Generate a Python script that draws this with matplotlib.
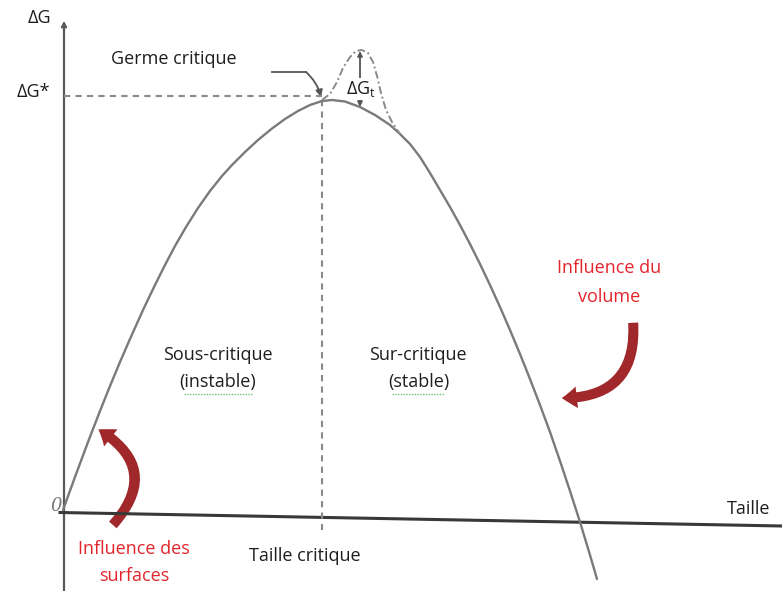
import matplotlib
matplotlib.use("Agg")
import matplotlib.pyplot as plt
from matplotlib.patches import FancyArrowPatch

# ---- data (diagram units: x = taille, y = ΔG, origin at the axes crossing) ----
curve_x = [0, 12, 25, 37, 47, 57, 67, 80, 92, 102, 112, 123, 135, 147, 159, 169,
           182, 195, 209, 222, 235, 247, 259, 269, 282, 297, 312, 327, 337, 347,
           357, 367, 377, 387, 397, 407, 417, 427, 437, 447, 457, 467, 477, 487,
           497, 507, 517, 527, 534]
curve_y = [3, 36, 71, 102, 127, 151, 174, 203, 228, 248, 267, 286, 305, 322, 337, 348,
           361, 373, 384.5, 394, 402, 408, 412, 413, 411.5, 406, 398, 388, 379, 369,
           356, 340, 323, 306, 288, 269, 249, 228, 206, 183, 159, 134, 108, 81,
           52, 22, -9, -42, -66]

bump_x = [259, 267, 274, 280, 287, 293, 299, 305, 310, 314, 318, 323, 329, 337]
bump_y = [413, 419, 431, 445, 456, 462, 463, 460, 451, 437, 420, 403, 391, 379]

critical_x = 259      # taille critique
critical_y = 417      # ΔG*

ORIGIN_PX = (63, 513)


def X(px):
    return px - ORIGIN_PX[0]


def Y(py):
    return ORIGIN_PX[1] - py


fig = plt.figure(figsize=(7.82, 5.91), dpi=100)
ax = fig.add_axes([0, 0, 1, 1])
ax.set_xlim(X(0), X(782))
ax.set_ylim(Y(591), Y(0))
ax.axis("off")

plt.rcParams["font.family"] = ["Open Sans", "DejaVu Sans"]
FONT = ["Open Sans", "DejaVu Sans"]
TXT = "#1e1e1e"
RED = "#e3242b"
GREY = "#7a7a7a"

# axes
ax.plot([X(64), X(64)], [Y(591), Y(28)], color="#5a5a5a", lw=1.6)
ax.annotate("", xy=(X(64), Y(18)), xytext=(X(64), Y(40)),
            arrowprops=dict(arrowstyle="-|>", color="#5a5a5a", lw=1.4,
                            mutation_scale=8))
ax.plot([X(60), X(782)], [Y(512.5), Y(526)], color="#383838", lw=2.2)

# dashed guide lines
ax.plot([X(64), critical_x], [critical_y, critical_y], color="#8a8a8a",
        lw=1.5, ls=(0, (3, 2.5)))
ax.plot([critical_x, critical_x], [critical_y - 4, Y(530)], color="#8a8a8a",
        lw=1.5, ls=(0, (3, 2.5)))

# main curve
ax.plot(curve_x, curve_y, color=GREY, lw=1.7, solid_capstyle="round",
        solid_joinstyle="round")
# metastable bump
ax.plot(bump_x, bump_y, color="#8a8a8a", lw=1.4, ls=(0, (4, 1.5, 1, 1.5)))

# ΔGt double arrow
ax.annotate("", xy=(X(360), Y(51)), xytext=(X(360), Y(107)),
            arrowprops=dict(arrowstyle="<|-|>", color="#555555", lw=1.3,
                            mutation_scale=7, shrinkA=0, shrinkB=0))

# "Germe critique" pointer
ax.plot([X(272), X(306)], [Y(72), Y(72)], color="#555555", lw=1.3)
ax.add_patch(FancyArrowPatch((X(306), Y(72)), (X(321), Y(97)),
                             connectionstyle="arc3,rad=-0.15",
                             arrowstyle="-|>", mutation_scale=10,
                             color="#555555", lw=1.3, shrinkA=0, shrinkB=0))


# texts
def t(px, py, s, color=TXT, size=13, **kw):
    ax.text(X(px), Y(py), s, color=color, fontsize=size, ha="center",
            va="center", family=FONT, **kw)


t(39, 18, "ΔG")
t(33, 92, "ΔG*")
t(174, 59, "Germe critique")
t(361, 89, "ΔG$_\\mathregular{t}$",
  bbox=dict(boxstyle="square,pad=0.05", fc="white", ec="none"))
t(609, 268, "Influence du", color=RED)
t(609, 297, "volume", color=RED)
t(218, 355, "Sous-critique")
t(218, 382, "(instable)")
t(418, 355, "Sur-critique")
t(419, 382, "(stable)")
ax.text(X(56), Y(506), "0", color="#777777", fontsize=13, ha="center",
        va="center", family="DejaVu Serif", style="italic")
t(749, 509, "Taille")
t(305, 556, "Taille critique")
t(134, 549, "Influence des", color=RED)
t(134, 576, "surfaces", color=RED)

# spell-check squiggles
for x0, x1 in [(184, 252), (392, 445)]:
    ax.plot([X(x0), X(x1)], [Y(394), Y(394)], color="#6cc070", lw=1.0,
            ls=(0, (1, 1)))

# red curved arrows
ARROW_RED = "#a0282a"
ax.add_patch(FancyArrowPatch((X(111), Y(527)), (X(96), Y(428)),
                             connectionstyle="arc3,rad=0.62",
                             arrowstyle="simple,head_length=0.9,head_width=1.3,tail_width=0.6",
                             mutation_scale=12, color=ARROW_RED, lw=0))
ax.add_patch(FancyArrowPatch((X(633), Y(320)), (X(559), Y(398)),
                             connectionstyle="arc3,rad=-0.55",
                             arrowstyle="simple,head_length=0.9,head_width=1.3,tail_width=0.6",
                             mutation_scale=12, color=ARROW_RED, lw=0))

fig.savefig("out.png", dpi=100, facecolor="white")
